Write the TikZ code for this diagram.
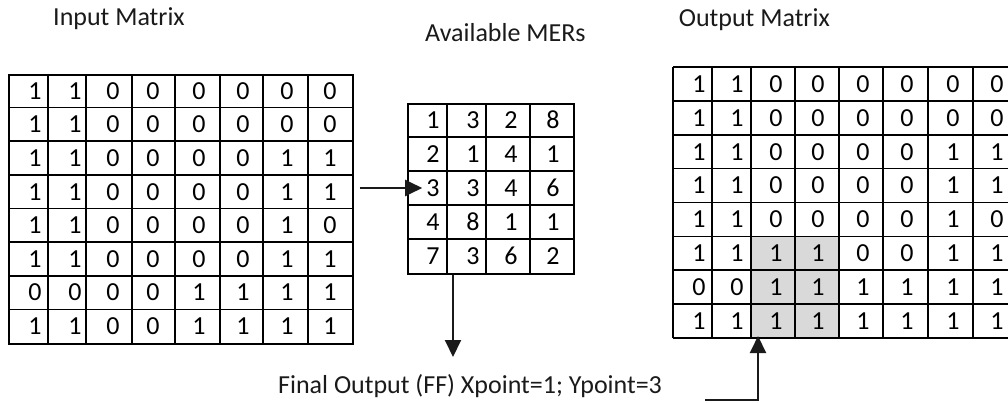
\documentclass[tikz,border=0pt]{standalone}
\usepackage{fontspec}
\setmainfont{Carlito}
\usetikzlibrary{arrows.meta,calc}

\definecolor{cellgray}{HTML}{D9D9D9}
\definecolor{ink}{HTML}{1A1A1A}

\begin{document}
\begin{tikzpicture}[x=1pt,y=-1pt,
  grid/.style={line width=1.6pt, draw=black},
  cellnum/.style={inner sep=0pt, text=black, font=\fontsize{26}{29}\selectfont},
  title/.style={inner sep=0pt, anchor=base west, text=ink, font=\fontsize{26}{29}\selectfont},
  link/.style={line width=2pt, draw=ink, -{Triangle[length=17pt,width=16pt]}},
]
\useasboundingbox (0,0) rectangle (1008,403);

% ---------- titles ----------
\node[title] (tIn) at (53,26) {Input Matrix};
\node[title] (tMer) at (425,42) {Available MERs};
\node[title, anchor=base east] (tOut) at (830,27) {Output Matrix};
\node[title] (ff) at (278,393) {Final Output (FF) Xpoint=1; Ypoint=3};

% ---------- input matrix (8 x 8) ----------
\node[grid, anchor=north west, minimum width=344pt, minimum height=269pt, inner sep=0pt] (inM) at (8,74) {};
\foreach \x in {48,86,132,175,220,263,308}
  \draw[grid] (\x,74) -- (\x,343);
\foreach \k in {1,...,7}
  \draw[grid] (8,{74+\k*33.625}) -- (352,{74+\k*33.625});
\foreach \row [count=\r] in {%
  {1,1,0,0,0,0,0,0},{1,1,0,0,0,0,0,0},{1,1,0,0,0,0,1,1},{1,1,0,0,0,0,1,1},%
  {1,1,0,0,0,0,1,0},{1,1,0,0,0,0,1,1},{0,0,0,0,1,1,1,1},{1,1,0,0,1,1,1,1}}
  \foreach \v [count=\c] in \row {
    \pgfmathsetmacro{\xx}{{35,75,113,153,199,243,287,330}[\c-1]}
    \node[cellnum] (in-\r-\c) at (\xx,{74+(\r-0.5)*33.625}) {\v};
  }

% ---------- available MERs (5 x 4) ----------
\node[grid, anchor=north west, minimum width=166pt, minimum height=170pt, inner sep=0pt] (mer) at (407,103) {};
\foreach \x in {447,486,530}
  \draw[grid] (\x,103) -- (\x,273);
\foreach \k in {1,...,4}
  \draw[grid] (407,{103+\k*34}) -- (573,{103+\k*34});
\foreach \row [count=\r] in {{1,3,2,8},{2,1,4,1},{3,3,4,6},{4,8,1,1},{7,3,6,2}}
  \foreach \v [count=\c] in \row {
    \pgfmathsetmacro{\xx}{{433,473,511,553}[\c-1]}
    \node[cellnum] (m-\r-\c) at (\xx,{103+(\r-0.5)*34}) {\v};
  }

% ---------- output matrix (8 x 8, right side open) ----------
\node[anchor=north west, minimum width=335pt, minimum height=271pt, inner sep=0pt] (outM) at (673,67) {};
\fill[cellgray] (751,{67+5*33.875}) rectangle (839,338);
\foreach \x in {673,712,751,795,839,883,928,973}
  \draw[grid] (\x,67) -- (\x,338);
\foreach \k in {0,...,8}
  \draw[grid] (673,{67+\k*33.875}) -- (1008,{67+\k*33.875});
\foreach \row [count=\r] in {%
  {1,1,0,0,0,0,0,0},{1,1,0,0,0,0,0,0},{1,1,0,0,0,0,1,1},{1,1,0,0,0,0,1,1},%
  {1,1,0,0,0,0,1,0},{1,1,1,1,0,0,1,1},{0,0,1,1,1,1,1,1},{1,1,1,1,1,1,1,1}}
  \foreach \v [count=\c] in \row {
    \pgfmathsetmacro{\xx}{{699,737,776,818,863,907,953,997}[\c-1]}
    \node[cellnum] (o-\r-\c) at (\xx,{67+(\r-0.5)*33.875}) {\v};
  }

% ---------- connectors ----------
\draw[link, shorten <=6pt, shorten >=4pt] (inM.east |- m-3-1) -- (m-3-1.west);

\coordinate (dTop) at ($(mer.south west)+(46,0)$);
\coordinate (dTip) at (453,357);
\draw[link] (dTop) -- (dTip);

\coordinate (uStart) at (705,400);
\coordinate (uTip) at (758,336);
\draw[link] (uStart) -| (uTip);
\end{tikzpicture}
\end{document}
